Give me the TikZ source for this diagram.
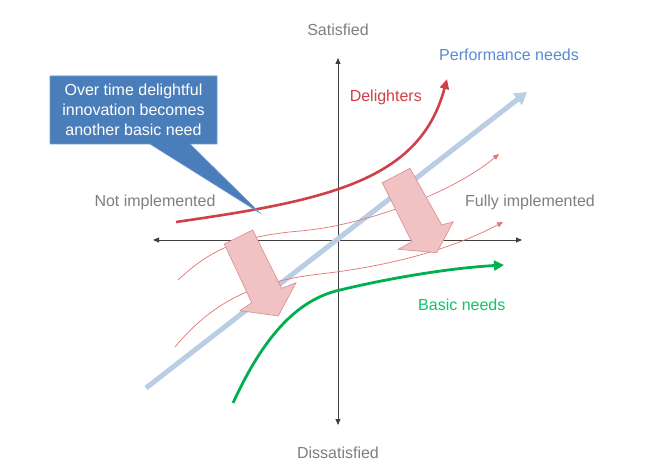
\documentclass[tikz,border=0pt]{standalone}
\usepackage{fontspec}
\setmainfont{Liberation Sans}
\usetikzlibrary{arrows.meta}
\definecolor{txtgray}{HTML}{7F7F7F}
\definecolor{perfblue}{HTML}{5A8AD0}
\definecolor{linblue}{HTML}{B9CDE5}
\definecolor{delred}{HTML}{D0404A}
\definecolor{thinred}{HTML}{E57373}
\definecolor{basgreen}{HTML}{00B050}
\definecolor{basgreentxt}{HTML}{10C468}
\definecolor{callblue}{HTML}{4A7EBB}
\definecolor{callborder}{HTML}{6F9AD0}
\definecolor{blockfill}{HTML}{F0C2C3}
\definecolor{blockdraw}{HTML}{E08A8C}
\definecolor{axisgray}{HTML}{404040}
\begin{document}
\begin{tikzpicture}[x=1pt,y=-1pt,
  font=\fontsize{16}{20}\selectfont,
  lbl/.style={text=txtgray, inner sep=0pt, anchor=base},
  axisline/.style={draw=axisgray, line width=0.8pt, {Triangle[length=6pt,width=5pt]}-{Triangle[length=6pt,width=5pt]}},
  thinneed/.style={draw=thinred, line width=0.7pt, -{Triangle[length=6pt,width=5pt]}},
  blockarrow/.style={fill=blockfill, draw=blockdraw, line width=0.6pt, line join=miter},
  callout/.style={fill=callblue, draw=callborder, line width=0.6pt}
]
\useasboundingbox (0,0) rectangle (665,468);
\fill[white] (0,0) rectangle (665,468);

% axes
\coordinate (xl) at (153,240);
\coordinate (xr) at (522,240);
\coordinate (yt) at (338,58);
\coordinate (yb) at (338,425);
\draw[axisline] (xl) -- (xr);
\draw[axisline] (yt) -- (yb);

% performance needs line
\coordinate (p0) at (146,388);
\coordinate (p1) at (527,92);
\draw[draw=linblue, line width=5pt, -{Triangle[length=12pt,width=14pt]}] (p0) -- (p1);

% thin red curves
\coordinate (ua) at (178,280);
\coordinate (ub) at (300,231);
\coordinate (uc) at (499,154);
\draw[thinneed] (ua) .. controls (210,250) and (240,236) .. (ub)
  .. controls (360,226) and (450,195) .. (uc);
\coordinate (la) at (175,347);
\coordinate (lb) at (320,274);
\coordinate (lc) at (503,222);
\draw[thinneed] (la) .. controls (210,305) and (250,282) .. (lb)
  .. controls (400,265) and (460,245) .. (lc);

% delighters
\coordinate (d0) at (176,222);
\coordinate (d1) at (447,79);
\draw[draw=delred, line width=2.6pt, -{Triangle[length=10pt,width=9pt]}]
  (d0) .. controls (330,200) and (420,180) .. (d1);

% basic needs
\coordinate (g0) at (233,403);
\coordinate (g1) at (340,290);
\coordinate (g2) at (504,265);
\draw[draw=basgreen, line width=2.8pt, -{Triangle[length=10pt,width=10pt]}]
  (g0) .. controls (262,340) and (295,300) .. (g1)
  .. controls (390,278) and (450,268) .. (g2);

% block arrows
\draw[blockarrow] (224.3,244) -- (252.7,230) -- (281.7,288.3) -- (296,282.7)
  -- (278.3,316) -- (240,310.7) -- (251.7,302.7) -- cycle;
\draw[blockarrow] (382.3,182.7) -- (410,168.3) -- (441.7,225) -- (453.3,221.7)
  -- (436.7,252.7) -- (398.3,249.3) -- (411.7,241.7) -- cycle;

% callout
\draw[callout] (50,76) -- (217,76) -- (217,144) -- (190,144) -- (260,213)
  -- (150,144) -- (50,144) -- cycle;
\node[text=white, align=center, inner sep=0pt] (call) at (133.5,110)
  {Over time delightful\\innovation becomes\\another basic need};

% labels
\node[lbl] (sat) at (338,36) {Satisfied};
\node[lbl] (dis) at (338,458) {Dissatisfied};
\node[lbl] (notimp) at (155,207) {Not implemented};
\node[lbl] (fullimp) at (530,207) {Fully implemented};
\node[text=perfblue, inner sep=0pt, anchor=base west] (perf) at (439,61) {Performance needs};
\node[text=delred, inner sep=0pt, anchor=base east] (del) at (422,102) {Delighters};
\node[text=basgreentxt, inner sep=0pt, anchor=base west] (bas) at (418,311) {Basic needs};
\end{tikzpicture}
\end{document}
